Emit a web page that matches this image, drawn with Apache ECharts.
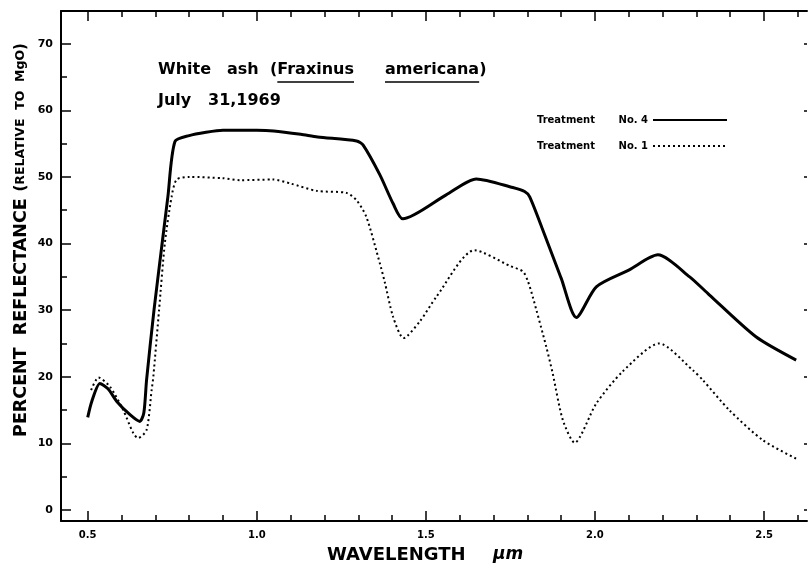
<!DOCTYPE html>
<html>
<head>
<meta charset="utf-8">
<title>White ash reflectance</title>
<script src="https://cdn.jsdelivr.net/npm/echarts@6/dist/echarts.min.js"></script>
<style>html,body{margin:0;padding:0;background:#fff}</style>
</head>
<body>
<div id="main" style="width:809px;height:568px"></div>
<script>
// Treatment No. 4 (solid)
var wave4 = [0.50, 0.512, 0.536, 0.56, 0.586, 0.625, 0.654, 0.666, 0.674, 0.696, 0.72, 0.737, 0.758, 0.80, 0.85, 0.90, 1.00, 1.05, 1.13, 1.18, 1.295, 1.314, 1.364, 1.403, 1.432, 1.56, 1.649, 1.757, 1.792, 1.807, 1.846, 1.90, 1.945, 2.004, 2.10, 2.186, 2.28, 2.338, 2.476, 2.595];
var refl4 = [13.9, 16.3, 19.0, 18.2, 16.3, 14.3, 13.3, 14.6, 19.5, 30.0, 40.0, 47.0, 55.3, 56.2, 56.7, 57.0, 57.0, 56.9, 56.4, 56.0, 55.4, 54.8, 50.3, 46.0, 43.7, 47.3, 49.7, 48.4, 47.8, 47.0, 42.0, 34.8, 28.9, 33.5, 36.0, 38.3, 35.0, 32.3, 26.0, 22.5];
// Treatment No. 1 (dotted)
var wave1 = [0.51, 0.532, 0.566, 0.605, 0.635, 0.649, 0.674, 0.689, 0.694, 0.711, 0.728, 0.748, 0.763, 0.80, 0.90, 0.95, 1.048, 1.10, 1.177, 1.265, 1.295, 1.324, 1.364, 1.378, 1.403, 1.434, 1.482, 1.531, 1.644, 1.75, 1.787, 1.802, 1.816, 1.856, 1.875, 1.905, 1.94, 2.004, 2.082, 2.19, 2.289, 2.319, 2.397, 2.496, 2.599];
var refl1 = [18.0, 19.9, 18.5, 15.0, 11.5, 10.8, 12.0, 18.0, 20.0, 30.0, 40.0, 47.0, 49.6, 50.0, 49.8, 49.5, 49.6, 49.0, 47.9, 47.6, 46.5, 44.0, 37.0, 34.3, 29.0, 25.8, 28.3, 32.0, 39.0, 36.6, 35.8, 34.3, 32.0, 24.5, 20.5, 13.5, 10.1, 16.0, 20.8, 25.0, 21.0, 19.5, 15.0, 10.5, 7.6];

var seriesNames = ['Treatment No. 4', 'Treatment No. 1'];
var xMinorTicks = [0.5, 0.6, 0.7, 0.8, 0.9, 1.0, 1.1, 1.2, 1.3, 1.4, 1.5, 1.6, 1.7, 1.8, 1.9, 2.0, 2.1, 2.2, 2.3, 2.4, 2.5, 2.6];
var xMajorTicks = [0.5, 1.0, 1.5, 2.0, 2.5];
var yMinorTicks = [0, 5, 10, 15, 20, 25, 30, 35, 40, 45, 50, 55, 60, 65, 70];
var yMajorTicks = [0, 10, 20, 30, 40, 50, 60, 70];

var xMin = 0.421, xMax = 2.627;
var yMin = -1.65, yMax = 74.9;
var FONT = '"DejaVu Sans", sans-serif';

function pairs(xs, ys) {
    return xs.map(function (x, i) { return [x, ys[i]]; });
}

var ctx = document.createElement('canvas').getContext('2d');
ctx.font = 'bold 16px "DejaVu Sans"';
function tw(s) { return ctx.measureText(s).width; }

var myChart = echarts.init(document.getElementById('main'));

function xAx(pos, ticks, len, line, labels) {
    return {
        type: 'value', min: xMin, max: xMax, position: pos,
        axisLine: {show: line, onZero: false, lineStyle: {color: '#000', width: 2}},
        axisTick: {inside: true, length: len, customValues: ticks, lineStyle: {color: '#000', width: 1.5}},
        axisLabel: labels ? {
            customValues: xMajorTicks, margin: 9, color: '#000', fontWeight: 'bold',
            fontSize: 10, fontFamily: FONT,
            formatter: function (v) { return v.toFixed(1); }
        } : {show: false},
        splitLine: {show: false}
    };
}
function yAx(pos, ticks, len, line, labels) {
    return {
        type: 'value', min: yMin, max: yMax, position: pos,
        axisLine: {show: line, onZero: false, lineStyle: {color: '#000', width: 2}},
        axisTick: {inside: true, length: len, customValues: ticks, lineStyle: {color: '#000', width: 1.5}},
        axisLabel: labels ? {
            customValues: yMajorTicks, margin: 8, color: '#000', fontWeight: 'bold',
            fontSize: 11, fontFamily: FONT
        } : {show: false},
        splitLine: {show: false}
    };
}

var ulY = 82;
var graphic = [
    {type: 'text', x: 158, y: 70, style: {text: 'White', font: 'bold 16px ' + FONT, fill: '#000', verticalAlign: 'middle'}},
    {type: 'text', x: 227, y: 70, style: {text: 'ash', font: 'bold 16px ' + FONT, fill: '#000', verticalAlign: 'middle'}},
    {type: 'text', x: 270, y: 70, style: {text: '(Fraxinus', font: 'bold 16px ' + FONT, fill: '#000', verticalAlign: 'middle'}},
    {type: 'text', x: 385, y: 70, style: {text: 'americana)', font: 'bold 16px ' + FONT, fill: '#000', verticalAlign: 'middle'}},
    {type: 'line', shape: {x1: 270 + tw('('), y1: ulY, x2: 270 + tw('(Fraxinus'), y2: ulY}, style: {stroke: '#000', lineWidth: 1.5}},
    {type: 'line', shape: {x1: 385, y1: ulY, x2: 385 + tw('americana'), y2: ulY}, style: {stroke: '#000', lineWidth: 1.5}},
    {type: 'text', x: 158, y: 101, style: {text: 'July', font: 'bold 16px ' + FONT, fill: '#000', verticalAlign: 'middle'}},
    {type: 'text', x: 208, y: 101, style: {text: '31,1969', font: 'bold 16px ' + FONT, fill: '#000', verticalAlign: 'middle'}},
    {type: 'text', x: 327, y: 555, style: {text: 'WAVELENGTH', font: 'bold 18px ' + FONT, fill: '#000', verticalAlign: 'middle'}},
    {type: 'text', x: 493, y: 555, style: {text: 'µm', font: 'bold italic 17px ' + FONT, fill: '#000', verticalAlign: 'middle'}},
    {
        type: 'text', x: 21, y: 240, rotation: Math.PI / 2,
        style: {
            text: '{a|PERCENT  REFLECTANCE}  {b|(}{c|RELATIVE  TO  MgO}{b|)}',
            align: 'center', verticalAlign: 'middle', fill: '#000',
            rich: {
                a: {fontSize: 17.5, fontWeight: 'bold', fontFamily: FONT, fill: '#000'},
                b: {fontSize: 15, fontWeight: 'bold', fontFamily: FONT, fill: '#000'},
                c: {fontSize: 12.5, fontWeight: 'bold', fontFamily: FONT, fill: '#000'}
            }
        }
    }
];

var option = {
    animation: false,
    backgroundColor: '#fff',
    grid: {left: 61, right: 2, top: 11, bottom: 47, containLabel: false},
    legend: {
        data: seriesNames,
        orient: 'vertical', align: 'right',
        left: 513, top: 110,
        itemWidth: 74, itemHeight: 10, itemGap: 16,
        itemStyle: {opacity: 0},
        formatter: function (name) {
            var p = name.split(' No. ');
            return '{t|' + p[0] + '}{n|No. ' + p[1] + '}';
        },
        textStyle: {
            color: '#000', fontWeight: 'bold', fontSize: 10, fontFamily: FONT, lineHeight: 10,
            rich: {
                t: {width: 77, color: '#000', fontWeight: 'bold', fontSize: 10, fontFamily: FONT, lineHeight: 10},
                n: {width: 53, color: '#000', fontWeight: 'bold', fontSize: 10, fontFamily: FONT, lineHeight: 10}
            }
        }
    },
    xAxis: [
        xAx('bottom', xMinorTicks, 6, true, true),
        xAx('bottom', xMajorTicks, 10, false, false),
        xAx('top', xMinorTicks, 6, true, false),
        xAx('top', xMajorTicks, 10, false, false)
    ],
    yAxis: [
        yAx('left', yMinorTicks, 6, true, true),
        yAx('left', yMajorTicks, 10, false, false),
        yAx('right', yMajorTicks, 3, false, false)
    ],
    graphic: graphic,
    series: [
        {
            name: seriesNames[0], type: 'line', data: pairs(wave4, refl4),
            symbol: 'none', smooth: 0.25,
            lineStyle: {color: '#000', width: 3},
            itemStyle: {color: '#000'}
        },
        {
            name: seriesNames[1], type: 'line', data: pairs(wave1, refl1),
            symbol: 'none', smooth: 0.25,
            lineStyle: {color: '#000', width: 2, type: [2, 3]},
            itemStyle: {color: '#000'}
        }
    ]
};

option && myChart.setOption(option);
</script>
</body>
</html>
